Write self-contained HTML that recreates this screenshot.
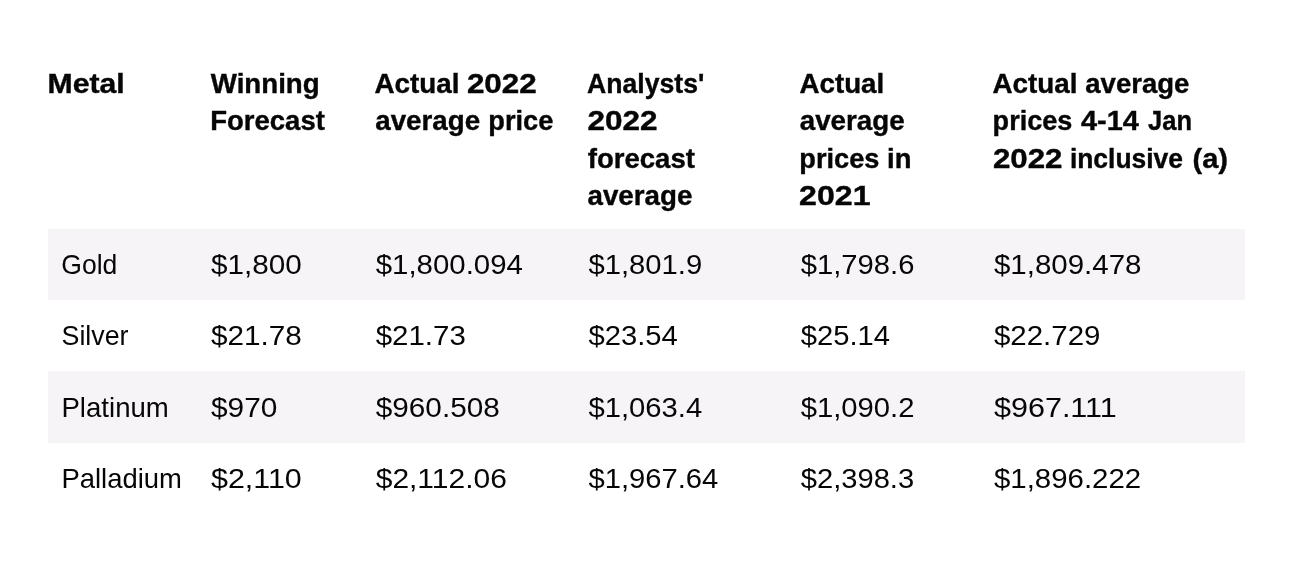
<!DOCTYPE html>
<html lang="en">
<head>
<meta charset="utf-8">
<title>Precious metals forecast table</title>
<style>
html,body{margin:0;padding:0;background:#fff;}
body{width:1295px;height:567px;overflow:hidden;position:relative;font-family:"Liberation Sans",Arial,Helvetica,sans-serif;color:#060606;}
table{position:absolute;left:48px;top:0;width:1197px;border-collapse:collapse;border-spacing:0;table-layout:fixed;}
th,td{padding:0;margin:0;text-align:left;white-space:nowrap;overflow:visible;}
th{-webkit-text-stroke:0.4px #060606;font-weight:bold;font-size:28.4px;line-height:37px;vertical-align:top;height:229.0px;box-sizing:border-box;padding-top:64.0px;}
td{font-weight:normal;font-size:27.2px;line-height:71px;vertical-align:top;box-sizing:border-box;}
tbody tr:nth-child(odd) td{background:#f6f4f7;}
.t{display:inline-block;transform-origin:0 50%;white-space:pre;position:relative;}
</style>
</head>
<body>
<table>
<colgroup>
<col style="width:162px">
<col style="width:165px">
<col style="width:213px">
<col style="width:212px">
<col style="width:193px">
<col style="width:252px">
</colgroup>
<thead><tr>
<th><span class="t" id="h0_0_0" style="transform:translate(-0.38px,1.00px) scaleX(1.0621)">Metal</span></th>
<th><span class="t" id="h1_0_0" style="transform:translate(0.75px,1.00px) scaleX(0.9750)">Winning</span><br><span class="t" id="h1_1_0" style="transform:translate(0.31px,1.00px) scaleX(0.9677)">Forecast</span></th>
<th><span class="t" id="h2_0_0" style="transform:translate(-0.49px,1.00px) scaleX(0.9792)">Actual</span> <span class="t" id="h2_0_1" style="transform:translate(-3.11px,1.00px) scaleX(1.1066)">2022</span><br><span class="t" id="h2_1_0" style="transform:translate(0.27px,1.00px) scaleX(0.9764)">average</span> <span class="t" id="h2_1_1" style="transform:translate(-1.67px,1.00px) scaleX(0.9578)">price</span></th>
<th><span class="t" id="h3_0_0" style="transform:translate(-0.95px,1.00px) scaleX(0.9370)">Analysts'</span><br><span class="t" id="h3_1_0" style="transform:translate(-0.61px,1.00px) scaleX(1.1107)">2022</span><br><span class="t" id="h3_2_0" style="transform:translate(-0.24px,2.00px) scaleX(0.9703)">forecast</span><br><span class="t" id="h3_3_0" style="transform:translate(-0.48px,2.00px) scaleX(0.9764)">average</span></th>
<th><span class="t" id="h4_0_0" style="transform:translate(-0.48px,1.00px) scaleX(0.9762)">Actual</span><br><span class="t" id="h4_1_0" style="transform:translate(-0.23px,1.00px) scaleX(0.9764)">average</span><br><span class="t" id="h4_2_0" style="transform:translate(-0.67px,2.00px) scaleX(0.9566)">prices</span> <span class="t" id="h4_2_1" style="transform:translate(-4.93px,2.00px) scaleX(0.9653)">in</span><br><span class="t" id="h4_3_0" style="transform:translate(-0.88px,2.00px) scaleX(1.1301)">2021</span></th>
<th><span class="t" id="h5_0_0" style="transform:translate(-0.49px,1.00px) scaleX(0.9792)">Actual</span> <span class="t" id="h5_0_1" style="transform:translate(-2.73px,1.00px) scaleX(0.9692)">average</span><br><span class="t" id="h5_1_0" style="transform:translate(-0.41px,1.00px) scaleX(0.9535)">prices</span> <span class="t" id="h5_1_1" style="transform:translate(-4.01px,1.00px) scaleX(1.0178)">4-14</span> <span class="t" id="h5_1_2" style="transform:translate(-0.95px,1.00px) scaleX(0.8985)">Jan</span><br><span class="t" id="h5_2_0" style="transform:translate(-0.10px,2.00px) scaleX(1.1025)">2022</span> <span class="t" id="h5_2_1" style="transform:translate(5.88px,2.00px) scaleX(0.9304)">inclusive</span> <span class="t" id="h5_2_2" style="transform:translate(-0.55px,2.00px) scaleX(1.0238)">(a)</span></th>
</tr></thead>
<tbody>
<tr style="height:71px">
<td><span class="t" id="b0_0" style="transform:translate(13.28px,0.00px) scaleX(0.9770)">Gold</span></td>
<td><span class="t" id="b0_1" style="transform:translate(0.98px,0.00px) scaleX(1.0917)">$1,800</span></td>
<td><span class="t" id="b0_2" style="transform:translate(0.73px,0.00px) scaleX(1.0815)">$1,800.094</span></td>
<td><span class="t" id="b0_3" style="transform:translate(0.48px,0.00px) scaleX(1.0743)">$1,801.9</span></td>
<td><span class="t" id="b0_4" style="transform:translate(0.73px,0.00px) scaleX(1.0743)">$1,798.6</span></td>
<td><span class="t" id="b0_5" style="transform:translate(0.98px,0.00px) scaleX(1.0836)">$1,809.478</span></td>
</tr>
<tr style="height:71px">
<td><span class="t" id="b1_0" style="transform:translate(13.52px,0.00px) scaleX(0.9849)">Silver</span></td>
<td><span class="t" id="b1_1" style="transform:translate(0.98px,0.00px) scaleX(1.0917)">$21.78</span></td>
<td><span class="t" id="b1_2" style="transform:translate(0.73px,0.00px) scaleX(1.0826)">$21.73</span></td>
<td><span class="t" id="b1_3" style="transform:translate(0.48px,0.00px) scaleX(1.0730)">$23.54</span></td>
<td><span class="t" id="b1_4" style="transform:translate(0.73px,0.00px) scaleX(1.0730)">$25.14</span></td>
<td><span class="t" id="b1_5" style="transform:translate(0.98px,0.00px) scaleX(1.0827)">$22.729</span></td>
</tr>
<tr style="height:72px">
<td><span class="t" id="b2_0" style="transform:translate(13.47px,1.00px) scaleX(1.0148)">Platinum</span></td>
<td><span class="t" id="b2_1" style="transform:translate(0.98px,1.00px) scaleX(1.0971)">$970</span></td>
<td><span class="t" id="b2_2" style="transform:translate(0.73px,1.00px) scaleX(1.0938)">$960.508</span></td>
<td><span class="t" id="b2_3" style="transform:translate(0.48px,1.00px) scaleX(1.0740)">$1,063.4</span></td>
<td><span class="t" id="b2_4" style="transform:translate(0.73px,1.00px) scaleX(1.0743)">$1,090.2</span></td>
<td><span class="t" id="b2_5" style="transform:translate(0.97px,1.00px) scaleX(1.1230)">$967.111</span></td>
</tr>
<tr style="height:71px">
<td><span class="t" id="b3_0" style="transform:translate(13.48px,0.00px) scaleX(1.0087)">Palladium</span></td>
<td><span class="t" id="b3_1" style="transform:translate(0.97px,0.00px) scaleX(1.1191)">$2,110</span></td>
<td><span class="t" id="b3_2" style="transform:translate(0.72px,0.00px) scaleX(1.1021)">$2,112.06</span></td>
<td><span class="t" id="b3_3" style="transform:translate(0.48px,0.00px) scaleX(1.0729)">$1,967.64</span></td>
<td><span class="t" id="b3_4" style="transform:translate(0.73px,0.00px) scaleX(1.0719)">$2,398.3</span></td>
<td><span class="t" id="b3_5" style="transform:translate(0.98px,0.00px) scaleX(1.0818)">$1,896.222</span></td>
</tr>
</tbody></table></body></html>
